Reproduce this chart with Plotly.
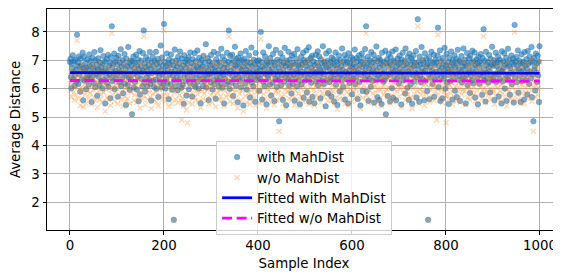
import plotly.graph_objects as go

# Average distance per sample, in hundredths
with_mahdist_x100 = [
    # 0
    694, 705, 641, 602, 688, 672, 718, 633, 659, 697,
    611, 648, 702, 666, 625, 790, 680, 693, 617, 714,
    652, 677, 589, 706, 660, 683, 634, 727, 559, 671,
    712, 628, 663, 690, 598, 675, 647, 703, 640, 668,
    614, 721, 679, 636, 698, 655, 553, 684, 709, 645,
    673, 620, 729, 664, 605, 700, 651, 686, 575, 669,
    707, 642, 667, 612, 692, 736, 627, 676, 657, 601,
    687, 715, 631, 662, 696, 548, 670, 644, 704, 619,
    661, 719, 607, 681, 650, 691, 566, 711, 639, 820,
    674, 626, 689, 656, 724, 599, 695, 663, 635, 708,
    # 100
    649, 685, 572, 716, 667, 623, 693, 658, 739, 610,
    678, 637, 701, 584, 687, 654, 722, 618, 670, 543,
    706, 646, 680, 613, 747, 638, 690, 596, 665, 699,
    632, 682, 510, 697, 651, 714, 604, 673, 624, 692,
    660, 720, 597, 684, 643, 703, 556, 668, 733, 580,
    679, 635, 699, 657, 608, 726, 664, 805, 622, 689,
    590, 676, 711, 641, 666, 609, 701, 652, 683, 631,
    729, 617, 672, 558, 694, 655, 713, 628, 679, 606,
    698, 661, 632, 730, 600, 688, 656, 705, 571, 674,
    643, 692, 621, 752, 665, 604, 710, 650, 681, 619,
    # 200
    828, 658, 694, 601, 679, 634, 724, 620, 668, 688,
    563, 703, 650, 684, 615, 721, 661, 596, 697, 646,
    682, 138, 630, 738, 667, 609, 699, 640, 678, 595,
    712, 656, 689, 622, 731, 637, 671, 603, 706, 662,
    613, 683, 547, 718, 649, 694, 627, 673, 576, 702,
    644, 687, 711, 598, 666, 619, 728, 659, 690, 633,
    572, 704, 652, 680, 614, 725, 663, 606, 697, 639,
    677, 735, 624, 669, 600, 709, 647, 688, 549, 672,
    701, 635, 679, 610, 716, 658, 626, 693, 648, 757,
    604, 674, 641, 707, 664, 560, 696, 651, 683, 623,
    # 300
    719, 654, 688, 597, 670, 632, 730, 616, 676, 660,
    565, 704, 645, 690, 628, 723, 666, 607, 694, 642,
    680, 620, 741, 657, 603, 713, 649, 673, 548, 700,
    636, 686, 659, 615, 727, 675, 625, 695, 805, 653,
    599, 715, 663, 689, 621, 720, 644, 574, 699, 670,
    633, 748, 681, 611, 705, 650, 685, 552, 710, 641,
    693, 627, 672, 724, 605, 665, 700, 637, 679, 541,
    706, 655, 690, 618, 733, 667, 597, 696, 647, 678,
    629, 717, 660, 569, 691, 640, 745, 622, 682, 663,
    608, 702, 645, 686, 554, 726, 657, 631, 698, 671,
    # 400
    639, 687, 700, 593, 666, 634, 800, 651, 695, 562,
    677, 728, 624, 670, 609, 714, 654, 684, 545, 697,
    646, 689, 638, 750, 668, 614, 708, 657, 576, 692,
    673, 621, 722, 652, 693, 557, 683, 635, 737, 661,
    606, 702, 643, 676, 630, 485, 696, 659, 725, 612,
    684, 648, 710, 561, 666, 691, 625, 744, 640, 680,
    542, 699, 654, 688, 633, 730, 611, 674, 703, 645,
    681, 583, 717, 662, 617, 690, 650, 723, 558, 685,
    637, 706, 664, 608, 739, 656, 682, 628, 694, 545,
    675, 646, 713, 615, 686, 660, 727, 568, 701, 649,
    # 500
    692, 629, 680, 735, 587, 667, 700, 639, 746, 554,
    687, 651, 708, 621, 674, 716, 571, 662, 696, 642,
    549, 683, 655, 720, 625, 690, 661, 732, 612, 678,
    714, 644, 669, 566, 703, 656, 689, 629, 750, 665,
    617, 694, 650, 684, 538, 724, 676, 632, 699, 584,
    679, 733, 623, 668, 693, 641, 573, 710, 658, 688,
    636, 704, 555, 682, 652, 728, 614, 671, 697, 543,
    686, 640, 717, 662, 590, 701, 648, 680, 627, 742,
    667, 606, 695, 646, 719, 562, 687, 659, 707, 633,
    693, 653, 548, 725, 665, 620, 690, 679, 643, 711,
    # 600
    580, 673, 703, 636, 687, 661, 738, 616, 678, 640,
    708, 657, 564, 698, 666, 718, 624, 684, 541, 694,
    649, 724, 677, 592, 706, 655, 686, 633, 740, 669,
    820, 589, 690, 645, 713, 557, 672, 700, 637, 683,
    607, 729, 658, 692, 628, 665, 720, 551, 702, 651,
    681, 631, 749, 663, 570, 697, 647, 709, 560, 675,
    701, 639, 688, 546, 727, 654, 682, 625, 695, 662,
    632, 734, 510, 691, 643, 704, 574, 677, 722, 650,
    689, 555, 711, 657, 684, 602, 731, 668, 568, 699,
    641, 694, 663, 738, 559, 680, 634, 706, 656, 687,
    # 700
    618, 716, 670, 645, 692, 544, 703, 659, 727, 630,
    682, 649, 697, 583, 742, 673, 636, 689, 603, 712,
    661, 561, 724, 652, 686, 615, 707, 671, 547, 698,
    647, 718, 679, 626, 691, 655, 733, 569, 683, 640,
    845, 667, 695, 554, 714, 644, 687, 622, 747, 672,
    634, 700, 658, 688, 559, 725, 663, 628, 705, 680,
    591, 686, 138, 650, 712, 563, 676, 696, 639, 730,
    664, 617, 690, 655, 720, 572, 684, 632, 702, 660,
    693, 646, 717, 815, 605, 679, 662, 735, 557, 698,
    642, 674, 566, 708, 653, 688, 635, 744, 667, 600,
    # 800
    683, 723, 621, 671, 694, 648, 546, 710, 659, 680,
    627, 731, 665, 691, 562, 700, 643, 684, 718, 593,
    675, 654, 705, 571, 689, 737, 632, 668, 698, 645,
    557, 694, 660, 715, 622, 679, 640, 742, 669, 690,
    635, 702, 548, 681, 650, 726, 612, 686, 657, 707,
    664, 585, 716, 646, 693, 629, 734, 674, 620, 697,
    654, 728, 569, 683, 661, 703, 638, 690, 545, 713,
    677, 618, 696, 649, 722, 658, 687, 579, 708, 644,
    810, 668, 630, 699, 555, 730, 655, 684, 636, 693,
    622, 675, 719, 662, 587, 705, 647, 685, 748, 629,
    # 900
    681, 639, 700, 560, 688, 654, 727, 624, 678, 695,
    650, 714, 573, 669, 702, 635, 691, 657, 548, 732,
    663, 626, 697, 674, 725, 601, 684, 646, 709, 557,
    689, 643, 741, 632, 680, 700, 579, 672, 656, 717,
    616, 692, 652, 706, 551, 685, 825, 638, 696, 662,
    712, 623, 681, 735, 586, 668, 699, 645, 690, 553,
    659, 721, 627, 686, 664, 695, 562, 729, 648, 682,
    630, 704, 671, 580, 733, 655, 688, 617, 714, 661,
    693, 637, 747, 570, 698, 651, 485, 708, 666, 679,
    594, 724, 658, 689, 624, 716, 647, 696, 553, 750,
]

without_mahdist_x100 = [
    # 0
    618, 660, 596, 571, 641, 627, 672, 585, 610, 648,
    560, 603, 655, 622, 580, 770, 633, 647, 566, 676,
    598, 638, 541, 657, 606, 650, 590, 688, 535, 630,
    668, 577, 615, 645, 549, 636, 601, 662, 592, 624,
    568, 680, 629, 584, 652, 609, 545, 642, 671, 596,
    634, 570, 685, 614, 558, 659, 603, 643, 535, 626,
    664, 593, 621, 563, 651, 692, 579, 632, 607, 553,
    640, 673, 587, 617, 656, 520, 627, 597, 661, 569,
    611, 678, 561, 637, 602, 649, 542, 666, 595, 795,
    629, 578, 645, 608, 684, 556, 653, 616, 589, 660,
    # 100
    600, 641, 547, 672, 622, 574, 648, 611, 693, 562,
    635, 591, 657, 538, 643, 607, 679, 572, 625, 555,
    663, 604, 636, 565, 698, 594, 646, 548, 620, 655,
    586, 637, 505, 654, 605, 674, 558, 628, 579, 650,
    613, 679, 551, 640, 598, 662, 569, 623, 689, 532,
    638, 590, 656, 610, 563, 683, 618, 785, 576, 647,
    544, 633, 669, 598, 621, 562, 659, 606, 639, 587,
    686, 570, 630, 530, 649, 608, 675, 582, 637, 560,
    654, 615, 588, 687, 553, 643, 611, 662, 540, 632,
    597, 650, 576, 702, 619, 559, 668, 605, 636, 573,
    # 200
    805, 611, 652, 556, 635, 589, 683, 575, 626, 646,
    537, 661, 606, 640, 568, 680, 614, 549, 654, 600,
    638, 135, 586, 696, 621, 563, 657, 596, 633, 550,
    671, 610, 645, 577, 689, 593, 628, 557, 490, 619,
    567, 639, 539, 677, 603, 652, 583, 630, 525, 660,
    480, 643, 670, 551, 622, 575, 686, 612, 648, 587,
    545, 663, 607, 636, 571, 684, 617, 560, 655, 594,
    632, 691, 580, 624, 554, 667, 601, 645, 533, 628,
    658, 591, 634, 565, 675, 613, 582, 651, 603, 708,
    558, 629, 596, 665, 619, 546, 654, 606, 638, 578,
    # 300
    678, 609, 646, 552, 625, 588, 688, 573, 631, 616,
    536, 662, 599, 647, 584, 681, 622, 561, 651, 597,
    635, 574, 694, 612, 559, 670, 604, 630, 540, 658,
    593, 641, 615, 571, 685, 632, 581, 650, 785, 607,
    555, 673, 619, 644, 577, 678, 599, 548, 656, 627,
    589, 700, 634, 566, 663, 604, 640, 532, 667, 598,
    649, 583, 627, 681, 560, 620, 658, 592, 633, 520,
    664, 610, 646, 574, 688, 623, 551, 653, 602, 634,
    584, 674, 615, 545, 648, 596, 697, 578, 637, 618,
    564, 661, 600, 640, 541, 683, 612, 587, 655, 629,
    # 400
    594, 642, 658, 550, 621, 589, 775, 605, 651, 557,
    633, 685, 581, 626, 563, 671, 608, 638, 531, 654,
    601, 644, 592, 702, 623, 569, 665, 611, 552, 647,
    629, 577, 679, 606, 649, 543, 635, 590, 691, 617,
    560, 659, 597, 631, 585, 450, 652, 614, 682, 568,
    640, 603, 668, 547, 622, 648, 580, 698, 595, 634,
    534, 656, 608, 643, 591, 686, 566, 630, 660, 599,
    636, 558, 674, 616, 573, 646, 604, 680, 542, 640,
    592, 663, 619, 564, 693, 609, 637, 583, 650, 537,
    632, 600, 671, 570, 641, 613, 684, 553, 659, 604,
    # 500
    648, 585, 634, 690, 562, 624, 657, 596, 699, 546,
    642, 605, 665, 577, 630, 673, 556, 618, 652, 597,
    541, 637, 608, 676, 580, 644, 615, 687, 568, 633,
    670, 598, 625, 551, 660, 610, 645, 584, 704, 620,
    572, 650, 603, 639, 536, 679, 629, 589, 656, 558,
    635, 688, 579, 623, 649, 595, 559, 667, 612, 644,
    590, 661, 549, 636, 606, 684, 569, 627, 654, 528,
    641, 597, 672, 617, 565, 658, 601, 634, 584, 696,
    622, 562, 651, 600, 675, 546, 642, 613, 664, 588,
    649, 607, 542, 681, 620, 578, 646, 632, 598, 668,
    # 600
    555, 628, 660, 593, 643, 615, 692, 571, 634, 597,
    664, 610, 559, 654, 622, 674, 580, 639, 530, 650,
    602, 680, 632, 567, 663, 609, 640, 590, 694, 624,
    795, 576, 646, 601, 669, 550, 626, 656, 594, 637,
    562, 685, 613, 648, 583, 620, 677, 545, 659, 606,
    635, 587, 701, 617, 565, 653, 600, 666, 556, 630,
    658, 596, 641, 538, 683, 608, 636, 579, 650, 616,
    588, 690, 505, 645, 599, 661, 571, 632, 678, 603,
    643, 549, 668, 611, 638, 577, 688, 624, 563, 657,
    597, 649, 618, 694, 554, 634, 591, 663, 610, 644,
    # 700
    573, 672, 625, 600, 647, 535, 659, 613, 683, 585,
    636, 604, 651, 560, 696, 628, 593, 645, 578, 667,
    615, 556, 680, 607, 640, 570, 664, 626, 530, 654,
    601, 676, 634, 581, 646, 609, 689, 565, 637, 594,
    820, 622, 650, 548, 670, 598, 641, 578, 701, 627,
    590, 656, 611, 643, 541, 681, 618, 584, 661, 635,
    567, 640, 135, 605, 668, 553, 631, 651, 595, 685,
    619, 572, 645, 609, 675, 558, 637, 588, 657, 612,
    490, 602, 673, 790, 581, 633, 616, 690, 564, 653,
    597, 628, 551, 664, 607, 642, 590, 698, 621, 576,
    # 800
    480, 679, 578, 626, 649, 603, 563, 667, 613, 636,
    584, 686, 620, 646, 546, 658, 598, 637, 674, 569,
    630, 609, 661, 557, 642, 692, 588, 623, 655, 600,
    552, 648, 615, 671, 578, 634, 595, 697, 624, 644,
    591, 657, 543, 635, 604, 682, 568, 640, 612, 663,
    619, 561, 672, 599, 647, 585, 690, 629, 577, 650,
    607, 684, 555, 637, 616, 659, 593, 643, 537, 669,
    632, 574, 651, 603, 678, 613, 641, 565, 664, 598,
    785, 623, 587, 654, 551, 686, 610, 638, 592, 648,
    578, 630, 675, 617, 563, 661, 601, 639, 700, 586,
    # 900
    637, 595, 656, 545, 643, 609, 683, 580, 633, 650,
    604, 670, 559, 624, 658, 591, 645, 612, 553, 687,
    618, 583, 652, 629, 681, 567, 640, 601, 665, 538,
    644, 598, 696, 588, 635, 657, 565, 627, 611, 673,
    572, 647, 608, 662, 557, 639, 800, 593, 650, 618,
    668, 579, 636, 690, 562, 624, 655, 600, 645, 549,
    614, 676, 583, 641, 620, 651, 547, 684, 604, 637,
    586, 660, 627, 566, 688, 610, 643, 574, 670, 617,
    648, 592, 702, 556, 653, 606, 450, 664, 622, 634,
    570, 680, 613, 645, 580, 673, 602, 650, 552, 695,
]

# Fitted (linear) lines: endpoints
fit_x = [0, 999]
fit_with = [6.565, 6.55]
fit_without = [6.29, 6.27]

x_ticks = [0, 200, 400, 600, 800, 1000]
y_ticks = [2, 3, 4, 5, 6, 7, 8]

with_vals = [v / 100 for v in with_mahdist_x100]
without_vals = [v / 100 for v in without_mahdist_x100]
idx_with = list(range(len(with_vals)))
idx_without = list(range(len(without_vals)))

FONT = "DejaVu Sans"
FS = 13.33

fig = go.Figure()
fig.add_trace(go.Scatter(
    x=idx_with, y=with_vals, mode="markers", name="with MahDist",
    marker=dict(symbol="circle", size=5.5, color="rgba(31,119,180,0.6)",
                line=dict(width=0.6, color="rgba(31,119,180,0.6)")),
))
fig.add_trace(go.Scatter(
    x=idx_without, y=without_vals, mode="markers", name="w/o MahDist",
    marker=dict(symbol="x-thin", size=5, color="rgba(255,127,14,0.32)",
                line=dict(width=1.3, color="rgba(255,127,14,0.32)")),
))
fig.add_trace(go.Scatter(
    x=fit_x, y=fit_with, mode="lines", name="Fitted with MahDist",
    line=dict(color="blue", width=2.8),
))
fig.add_trace(go.Scatter(
    x=fit_x, y=fit_without, mode="lines", name="Fitted w/o MahDist",
    line=dict(color="magenta", width=2.8, dash="10px,4.5px"),
))

axis_common = dict(
    showgrid=True, gridcolor="#b0b0b0", gridwidth=0.8,
    zeroline=False, showline=True, linecolor="black", linewidth=1,
    ticks="outside", ticklen=3.5, tickwidth=1, tickcolor="black",
    tickfont=dict(family=FONT, size=FS, color="black"),
)

# The page body has an 8px margin, so the figure is 8px smaller each way
fig.update_layout(
    width=553, height=265,
    margin=dict(l=39, r=0, t=1, b=43),
    paper_bgcolor="white", plot_bgcolor="white",
    font=dict(family=FONT, size=FS, color="black"),
    xaxis=dict(range=[-48.9, 1044.7], tickvals=x_ticks, mirror=True,
               title=dict(text="Sample Index", font=dict(family=FONT, size=FS), standoff=6),
               automargin=False,
               **axis_common),
    yaxis=dict(range=[1.02, 8.81], tickvals=y_ticks,
               title=dict(text="Average Distance", font=dict(family=FONT, size=FS), standoff=8),
               automargin=False,
               **axis_common),
    legend=dict(x=0.329, y=0.403, xanchor="left", yanchor="top",
                bgcolor="rgba(255,255,255,0.8)", bordercolor="#cccccc", borderwidth=1,
                font=dict(family=FONT, size=FS, color="black"),
                itemwidth=30, tracegroupgap=0),
    showlegend=True,
)

fig.write_html("out.html")
